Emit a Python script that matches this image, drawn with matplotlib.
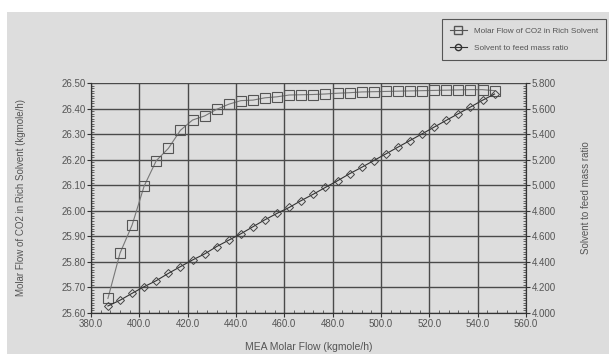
import matplotlib
matplotlib.use("Agg")
import matplotlib.pyplot as plt
from matplotlib.ticker import MultipleLocator, FormatStrFormatter
from matplotlib.patches import Rectangle
from matplotlib.lines import Line2D

plt.rcParams["font.family"] = ["Liberation Sans Narrow", "Liberation Sans", "DejaVu Sans"]

# MEA molar flow (kgmole/h)
mea_flow = [387, 392, 397, 402, 407, 412, 417, 422, 427, 432, 437, 442, 447, 452, 457, 462, 467,
            472, 477, 482, 487, 492, 497, 502, 507, 512, 517, 522, 527, 532, 537, 542, 547]
# Molar flow of CO2 in rich solvent (kgmole/h)
co2_rich = [25.657, 25.834, 25.944, 26.097, 26.196, 26.244, 26.315, 26.355, 26.371, 26.397,
            26.417, 26.431, 26.433, 26.442, 26.446, 26.453, 26.454,
            26.455, 26.457, 26.460, 26.462, 26.465, 26.466, 26.467, 26.468, 26.469, 26.470,
            26.471, 26.472, 26.473, 26.474, 26.474, 26.470]
# Solvent to feed mass ratio
mass_ratio = [4.055, 4.100, 4.154, 4.206, 4.253, 4.310, 4.363, 4.415, 4.462, 4.520, 4.570,
              4.620, 4.675, 4.730, 4.780, 4.826, 4.880, 4.930, 4.983, 5.035, 5.090, 5.140,
              5.193, 5.245, 5.298, 5.350, 5.402, 5.455, 5.508, 5.560, 5.612, 5.665, 5.714]

bg = "#dddddd"
txt = "#555555"

fig = plt.figure(figsize=(6.09, 3.54), dpi=100, facecolor="white")
fig.patches.append(Rectangle((7 / 609, 0), 1, 1 - 12 / 354, transform=fig.transFigure,
                             facecolor=bg, edgecolor="none", zorder=-10))

ax = fig.add_axes([91 / 609, 1 - 313 / 354, 435 / 609, 230 / 354])
ax.set_facecolor(bg)
ax2 = ax.twinx()

ax.plot(mea_flow, co2_rich, color="#777777", lw=0.8, marker="s", ms=6.5, mfc="none",
        mec="#555555", mew=0.8, zorder=3)
ax2.plot(mea_flow, mass_ratio, color="#333333", lw=0.8, marker="D", ms=4.5, mfc="none",
         mec="#444444", mew=0.7, zorder=3)

ax.set_xlim(380, 560)
ax.set_ylim(25.60, 26.50)
ax2.set_ylim(4.0, 5.8)

ax.xaxis.set_major_locator(MultipleLocator(20))
ax.xaxis.set_minor_locator(MultipleLocator(4))
ax.xaxis.set_major_formatter(FormatStrFormatter("%.1f"))
ax.yaxis.set_major_locator(MultipleLocator(0.1))
ax.yaxis.set_minor_locator(MultipleLocator(0.01))
ax.yaxis.set_major_formatter(FormatStrFormatter("%.2f"))
ax2.yaxis.set_major_locator(MultipleLocator(0.2))
ax2.yaxis.set_minor_locator(MultipleLocator(0.02))
ax2.yaxis.set_major_formatter(FormatStrFormatter("%.3f"))

ax.grid(True, which="major", color="#4a4a4a", lw=1.0)
ax.set_axisbelow(True)

for a in (ax, ax2):
    a.tick_params(which="major", direction="out", length=3, width=0.8, colors="#333333",
                  labelcolor=txt, labelsize=7, pad=1)
    a.tick_params(which="minor", direction="in", length=2, width=0.5, colors="#333333")
    for s in a.spines.values():
        s.set_color("#333333")
        s.set_linewidth(0.8)
    a.spines["top"].set_visible(False)

ax.set_xlabel("MEA Molar Flow (kgmole/h)", fontsize=7.5, color=txt, labelpad=10)
ax.set_ylabel("Molar Flow of CO2 in Rich Solvent (kgmole/h)", fontsize=7, color=txt, labelpad=25)
ax2.set_ylabel("Solvent to feed mass ratio", fontsize=7, color=txt, labelpad=18)

handles = [
    Line2D([], [], color="#555555", lw=0.8, marker="s", ms=5.5, mfc="none", mec="#555555"),
    Line2D([], [], color="#333333", lw=0.8, marker="o", ms=4.5, mfc="none", mec="#333333"),
]
leg = fig.legend(handles, ["Molar Flow of CO2 in Rich Solvent", "Solvent to feed mass ratio"],
                 loc="upper left", bbox_to_anchor=(438 / 609, 1 - 15 / 354), fontsize=5.9,
                 frameon=True, fancybox=False, handlelength=2.0, handletextpad=0.9,
                 borderpad=1.0, labelspacing=1.1, labelcolor=txt)
leg.get_frame().set_facecolor(bg)
leg.get_frame().set_edgecolor("#333333")
leg.get_frame().set_linewidth(0.8)

fig.savefig("out.png", dpi=100, facecolor="white")
